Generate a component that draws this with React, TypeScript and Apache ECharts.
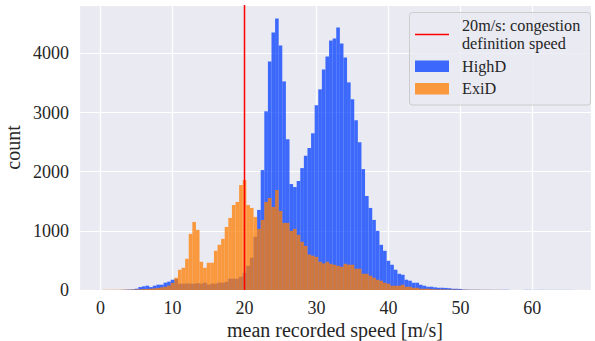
import React, { useEffect, useRef } from 'react';
import * as echarts from 'echarts';

// Histogram bins: left edge of first bin and bin width (m/s)
const BIN_START = 0.25;
const BIN_WIDTH = 0.5;

// HighD counts per bin (bin centers 0.5, 1.0, ..., 66.0)
const highD = [
  0, 0, 0, 0, 0, 2, 5, 8, 12, 22,
  50, 62, 73, 50, 73, 90, 90, 124, 141, 174,
  185, 107, 107, 110, 107, 107, 115, 107, 124, 90,
  107, 107, 124, 124, 140, 191, 191, 191, 225, 292,
  410, 545, 899, 1354, 2028, 3022, 3865, 4354, 4590, 4135,
  3528, 2551, 1792, 1742, 1843, 2062, 2270, 2400, 2650, 3124,
  3393, 3730, 3949, 4219, 4253, 4438, 4169, 3933, 3511, 3225,
  2871, 2500, 2045, 1590, 1388, 1185, 1000, 764, 663, 494,
  427, 343, 275, 258, 174, 157, 123, 123, 89, 72,
  55, 55, 45, 38, 38, 35, 30, 21, 21, 18,
  8, 6, 5, 4, 4, 3, 3, 3, 2, 2,
  2, 3, 3, 2, 0, 0, 0, 2, 2, 1,
  1, 1, 2, 1, 1, 1, 1, 1, 1, 1,
  1, 0,
];

// ExiD counts per bin (same bins)
const exiD = [
  3, 3, 4, 4, 4, 5, 5, 5, 8, 10,
  12, 15, 18, 22, 28, 35, 45, 55, 75, 120,
  207, 342, 376, 528, 949, 1151, 1017, 478, 376, 461,
  461, 663, 764, 865, 1067, 1219, 1438, 1489, 1775, 1860,
  1438, 1388, 1236, 1034, 1185, 1489, 1556, 1404, 1691, 1337,
  1135, 1135, 1000, 1034, 933, 815, 747, 600, 580, 560,
  478, 450, 478, 444, 427, 410, 393, 444, 427, 427,
  360, 360, 275, 275, 242, 208, 174, 157, 123, 106,
  72, 72, 72, 89, 55, 55, 38, 38, 21, 21,
  21, 15, 12, 10, 10, 8, 8, 6, 6, 5,
  4, 4, 3, 3, 3, 2, 2, 2, 2, 2,
  2, 0, 0, 0, 0, 0, 0, 0, 0, 0,
  0, 0, 0, 0, 0, 0, 0, 0, 0, 0,
  0, 0,
];

const xTicks = [0, 10, 20, 30, 40, 50, 60];
const yTicks = [0, 1000, 2000, 3000, 4000];
const congestionSpeed = 20;

const X_MIN = -3;
const X_MAX = 68.15;
const Y_MAX = 4820;

const BLUE = 'rgba(2,62,255,0.75)';
const ORANGE = 'rgba(255,124,0,0.75)';
const FONT = 'Liberation Serif';
const TEXT = '#262626';

function toBins(values: number[]) {
  return values
    .map((v, i) => [BIN_START + i * BIN_WIDTH, BIN_START + (i + 1) * BIN_WIDTH, v])
    .filter((d) => d[2] > 0);
}

function makeRender(color: string) {
  return (params: any, api: any) => {
    const x0 = api.value(0);
    const x1 = api.value(1);
    const y = api.value(2);
    const p0 = api.coord([x0, y]);
    const p1 = api.coord([x1, 0]);
    return {
      type: 'rect',
      shape: { x: p0[0], y: p0[1], width: p1[0] - p0[0], height: p1[1] - p0[1] },
      style: { fill: color },
    };
  };
}

export default function App() {
  const ref = useRef<HTMLDivElement>(null);
  useEffect(() => {
    if (!ref.current) return;
    const chart = echarts.init(ref.current, undefined, { renderer: 'svg' });
    const legendText = (text: string, y: number) => ({
      type: 'text',
      x: 462,
      y,
      style: { text, fill: TEXT, fontFamily: FONT, fontSize: 16.2, verticalAlign: 'middle' },
      z: 11,
    });
    const option: any = {
      animation: false,
      textStyle: { fontFamily: FONT },
      grid: {
        left: 79,
        top: 5,
        right: 4,
        bottom: 51,
        show: true,
        backgroundColor: '#eaeaf2',
        borderWidth: 0,
        containLabel: false,
        outerBoundsMode: 'none',
      },
      xAxis: {
        type: 'value',
        min: X_MIN,
        max: X_MAX,
        minInterval: 10,
        maxInterval: 10,
        splitNumber: 7,
        axisLine: { show: false },
        axisTick: { show: false },
        splitLine: { show: true, lineStyle: { color: '#ffffff', width: 1.2 } },
        axisLabel: {
          showMinLabel: false,
          showMaxLabel: false,
          margin: 9,
          color: TEXT,
          fontFamily: FONT,
          fontSize: 18,
          formatter: (v: number) => (xTicks.includes(v) ? String(v) : ''),
        },
        name: 'mean recorded speed [m/s]',
        nameLocation: 'middle',
        nameMoveOverlap: false,
        nameGap: 30,
        nameTextStyle: { color: TEXT, fontFamily: FONT, fontSize: 20, verticalAlign: 'top', lineHeight: 20 },
      },
      yAxis: {
        type: 'value',
        min: 0,
        max: Y_MAX,
        interval: 1000,
        axisLine: { show: false },
        axisTick: { show: false },
        splitLine: { show: true, lineStyle: { color: '#ffffff', width: 1.2 } },
        axisLabel: {
          showMaxLabel: false,
          margin: 10,
          color: TEXT,
          fontFamily: FONT,
          fontSize: 18,
          formatter: (v: number) => (yTicks.includes(v) ? String(v) : ''),
        },
        name: 'count',
        nameLocation: 'middle',
        nameMoveOverlap: false,
        nameGap: 56,
        nameTextStyle: { color: TEXT, fontFamily: FONT, fontSize: 20 },
      },
      series: [
        {
          type: 'custom',
          name: 'HighD',
          renderItem: makeRender(BLUE),
          encode: { x: [0, 1], y: 2 },
          data: toBins(highD),
          z: 2,
        },
        {
          type: 'custom',
          name: 'ExiD',
          renderItem: makeRender(ORANGE),
          encode: { x: [0, 1], y: 2 },
          data: toBins(exiD),
          z: 3,
        },
        {
          type: 'line',
          name: 'congestion',
          data: [
            [congestionSpeed, 0],
            [congestionSpeed, Y_MAX],
          ],
          symbol: 'none',
          lineStyle: { color: '#ff0000', width: 1.5 },
          z: 4,
        },
      ],
      graphic: [
        {
          type: 'rect',
          shape: { x: 409.5, y: 12.5, width: 181, height: 92.5, r: 3 },
          style: { fill: 'rgba(234,234,242,0.8)', stroke: '#cccccc', lineWidth: 1 },
          z: 10,
        },
        {
          type: 'line',
          shape: { x1: 415, y1: 34.5, x2: 449, y2: 34.5 },
          style: { stroke: '#ff0000', lineWidth: 1.5 },
          z: 11,
        },
        legendText('20m/s: congestion', 25.5),
        legendText('definition speed', 43.5),
        {
          type: 'rect',
          shape: { x: 415, y: 60.5, width: 34, height: 11.5 },
          style: { fill: BLUE },
          z: 11,
        },
        legendText('HighD', 67),
        {
          type: 'rect',
          shape: { x: 415, y: 83, width: 34, height: 11.5 },
          style: { fill: ORANGE },
          z: 11,
        },
        legendText('ExiD', 89),
      ],
    };
    chart.setOption(option);
    return () => chart.dispose();
  }, []);
  return (
    <div
      ref={ref}
      style={{ position: 'fixed', left: 0, top: 0, width: 595, height: 341, background: '#ffffff' }}
    />
  );
}
